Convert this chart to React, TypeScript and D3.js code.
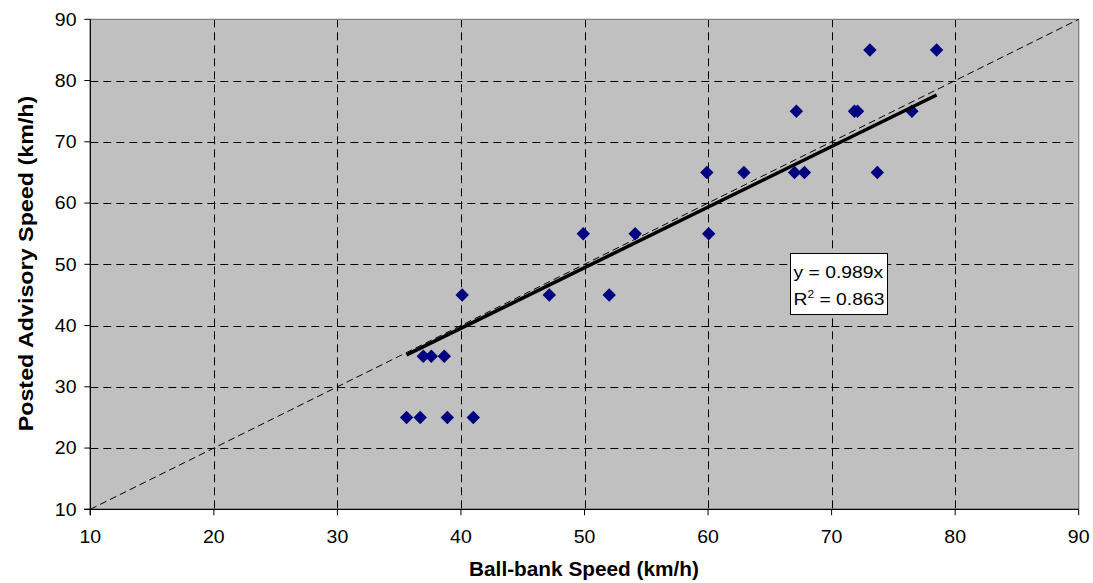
import React from "react";
import * as d3 from "d3";

const ballBank = [35.6, 36.7, 38.9, 41.0, 36.95, 37.6, 38.65, 40.1, 47.15, 52.0, 49.9, 54.1, 60.05, 59.9, 62.9, 67.0, 67.8, 73.7, 67.15, 71.85, 72.1, 76.5, 73.1, 78.5];
const posted = [25, 25, 25, 25, 35, 35, 35, 45, 45, 45, 55, 55, 55, 65, 65, 65, 65, 65, 75, 75, 75, 75, 85, 85];
const xTicks = [10, 20, 30, 40, 50, 60, 70, 80, 90];
const yTicks = [10, 20, 30, 40, 50, 60, 70, 80, 90];
const slope = 0.989;
const rSquared = 0.863;

const W = 1093;
const H = 583;
const L = 90.3, R = 1078.7, T = 19.3, B = 509.3;

export default function App() {
  const x = d3.scaleLinear().domain([10, 90]).range([L, R]);
  const y = d3.scaleLinear().domain([10, 90]).range([B, T]);
  const xMin = d3.min(ballBank) as number;
  const xMax = d3.max(ballBank) as number;
  const line = d3.line<number[]>().x((d) => x(d[0])).y((d) => y(d[1]));
  const font = "'Liberation Sans', Arial, sans-serif";
  const diamond = d3.symbol().type(d3.symbolDiamond2).size(115)() as string;
  const sq = "scale(1,0.9)";
  return (
    <svg width={W} height={H} style={{ position: "absolute", left: 0, top: 0, background: "#fff" }} fontFamily={font}>
      <rect x={L} y={T} width={R - L} height={B - T} fill="#C0C0C0" />
      {xTicks.slice(1, -1).map((t) => (
        <line key={"gx" + t} x1={Math.round(x(t)) + 0.5} x2={Math.round(x(t)) + 0.5} y1={T} y2={B} stroke="#000" strokeWidth={1} strokeDasharray="8,5" />
      ))}
      {yTicks.slice(1, -1).map((t) => (
        <line key={"gy" + t} x1={L} x2={R} y1={Math.round(y(t)) + 0.5} y2={Math.round(y(t)) + 0.5} stroke="#000" strokeWidth={1} strokeDasharray="8,5" />
      ))}
      <line x1={L} x2={R} y1={T} y2={T} stroke="#808080" strokeWidth={1.3} />
      <line x1={R} x2={R} y1={T} y2={B} stroke="#808080" strokeWidth={1.3} />
      <path d={line([[10, 10], [90, 90]]) as string} stroke="#000" strokeWidth={1} strokeDasharray="7,4" fill="none" />
      {ballBank.map((bx, i) => (
        <path key={"p" + i} d={diamond} transform={`translate(${x(bx)},${y(posted[i])})`} fill="#000080" />
      ))}
      <path d={line([[xMin, slope * xMin], [xMax, slope * xMax]]) as string} stroke="#000" strokeWidth={3.5} fill="none" />
      <line x1={L} x2={L} y1={T} y2={B + 6} stroke="#000" strokeWidth={1.3} />
      <line x1={L - 6} x2={R} y1={B} y2={B} stroke="#000" strokeWidth={1.3} />
      {xTicks.map((t) => (
        <g key={"xt" + t}>
          <line x1={x(t)} x2={x(t)} y1={B} y2={B + 6} stroke="#000" strokeWidth={1} />
          <text transform={`translate(${x(t)},543) ${sq}`} textAnchor="middle" fontSize={19.5} fill="#000">{t}</text>
        </g>
      ))}
      {yTicks.map((t) => (
        <g key={"yt" + t}>
          <line x1={L - 6} x2={L} y1={y(t)} y2={y(t)} stroke="#000" strokeWidth={1} />
          <text transform={`translate(76.5,${y(t) + 6.3}) ${sq}`} textAnchor="end" fontSize={19.5} fill="#000">{t}</text>
        </g>
      ))}
      <rect x={790.5} y={253.5} width={97} height={61} fill="#fff" stroke="#000" strokeWidth={1} />
      <text transform={`translate(793.5,277.5) ${sq}`} fontSize={19.3} fill="#000">y = {slope}x</text>
      <text transform={`translate(793.5,305) ${sq}`} fontSize={19.3} fill="#000">
        R<tspan dy={-8} fontSize={12}>2</tspan><tspan dy={8}> = {rSquared}</tspan>
      </text>
      <text x={(L + R) / 2 - 0.5} y={576} textAnchor="middle" fontSize={20.8} fontWeight="bold" fill="#000">Ball-bank Speed (km/h)</text>
      <text transform={`translate(32.5,263.5) rotate(-90) scale(1.11,1)`} textAnchor="middle" fontSize={21} fontWeight="bold" fill="#000">Posted Advisory Speed (km/h)</text>
    </svg>
  );
}
